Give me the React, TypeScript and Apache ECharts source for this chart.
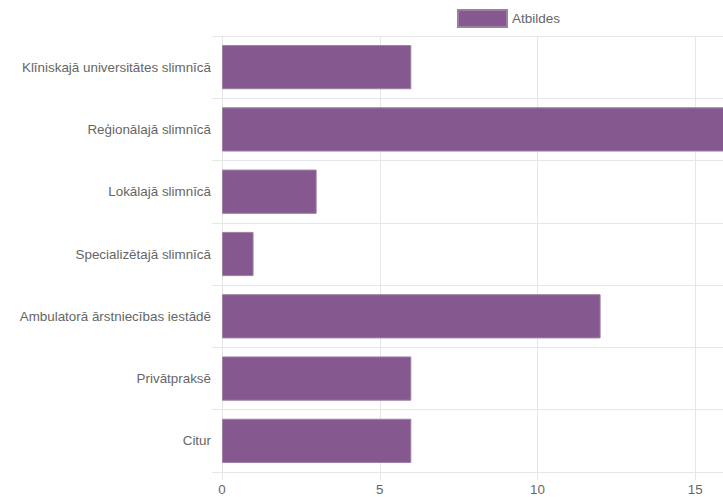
import React, { useEffect, useRef } from "react";
import * as echarts from "echarts";

const categories = [
  "Klīniskajā universitātes slimnīcā",
  "Reģionālajā slimnīcā",
  "Lokālajā slimnīcā",
  "Specializētajā slimnīcā",
  "Ambulatorā ārstniecības iestādē",
  "Privātpraksē",
  "Citur",
];
const answers = [6, 17, 3, 1, 12, 6, 6];
const seriesName = "Atbildes";
const xMin = 0;
const xMax = 20;
const xStep = 5;

const FONT = "'Liberation Sans', Arial, Helvetica, sans-serif";
const GRID = "#e6e6e6";
const TEXT = "#666666";
const BAR = "#85598f";

export default function App() {
  const ref = useRef<HTMLDivElement>(null);
  useEffect(() => {
    if (!ref.current) return;
    const chart = echarts.init(ref.current, null, { renderer: "svg" });
    chart.setOption({
      animation: false,
      textStyle: { fontFamily: FONT },
      legend: {
        left: 457,
        top: 9,
        padding: 0,
        itemWidth: 49,
        itemHeight: 17,
        icon: "rect",
        textStyle: { color: TEXT, fontSize: 13.5, fontFamily: FONT },
        data: [seriesName],
      },
      grid: { left: 222, top: 36, bottom: 25, right: 7, containLabel: false },
      xAxis: {
        type: "value",
        min: xMin,
        max: xMax,
        interval: xStep,
        axisLine: { show: true, lineStyle: { color: GRID, width: 1 } },
        axisTick: { show: true, length: 8, lineStyle: { color: GRID } },
        splitLine: { show: true, lineStyle: { color: GRID, width: 1 } },
        axisLabel: { color: TEXT, fontSize: 13.4, fontFamily: FONT, margin: 11, showMaxLabel: false },
      },
      yAxis: {
        type: "category",
        inverse: true,
        data: categories,
        axisLine: { show: true, lineStyle: { color: GRID, width: 1 } },
        axisTick: { show: true, length: 10, lineStyle: { color: GRID } },
        splitLine: { show: true, lineStyle: { color: GRID, width: 1 } },
        axisLabel: { color: TEXT, fontSize: 13.4, fontFamily: FONT, margin: 11 },
      },
      series: [
        {
          name: seriesName,
          type: "bar",
          data: answers,
          barCategoryGap: "29%",
          itemStyle: { color: BAR, borderColor: "#9d7fa4", borderWidth: 1 },
        },
      ],
    });
    return () => chart.dispose();
  }, []);
  return (
    <div style={{ position: "fixed", left: 0, top: 0, width: 723, height: 497, overflow: "hidden", background: "#fff" }}>
      <div ref={ref} style={{ width: 860, height: 497 }} />
    </div>
  );
}
